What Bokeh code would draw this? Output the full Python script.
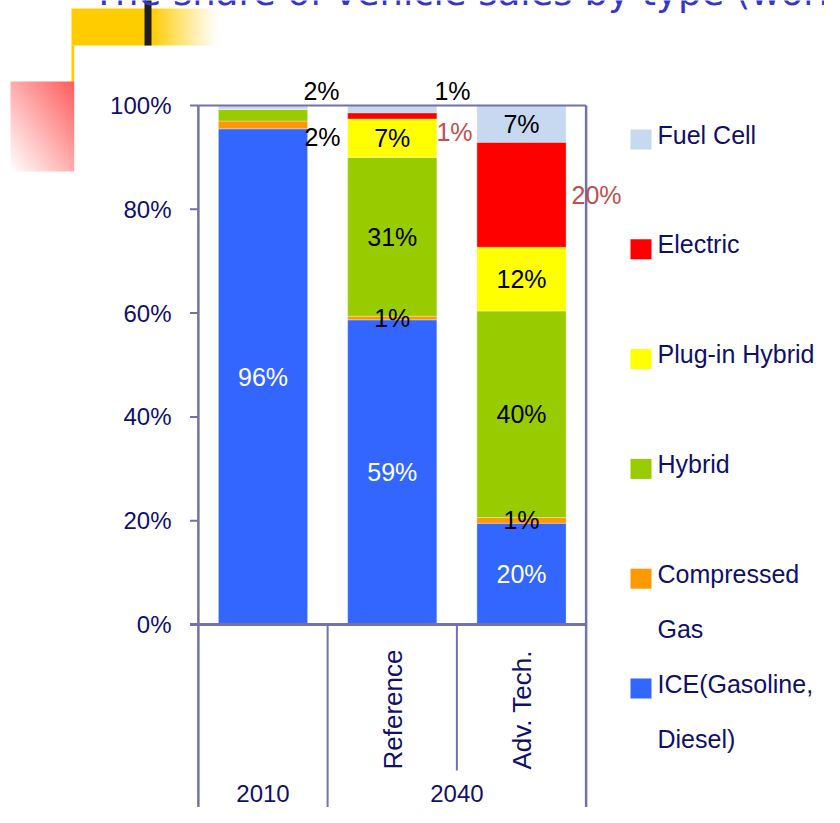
import numpy as np
from bokeh.plotting import figure
from bokeh.models import ColumnDataSource, Range1d
from bokeh.core.properties import value
from bokeh.embed import file_html
from bokeh.resources import INLINE

# ---------------- data ----------------
title = "The share of vehicle sales by type (world)"
groups = ["2010", "2040", "2040"]
scenarios = ["", "Reference", "Adv. Tech."]

series_names = ["ICE(Gasoline, Diesel)", "Compressed Gas", "Hybrid",
                "Plug-in Hybrid", "Electric", "Fuel Cell"]
ice = [95.5, 58.7, 19.5]
compressed_gas = [1.5, 0.7, 1.1]
hybrid = [2.3, 30.6, 39.8]
plug_in_hybrid = [0.0, 7.4, 12.3]
electric = [0.0, 1.2, 20.2]
fuel_cell = [0.7, 1.4, 7.1]

ice_labels = ["96%", "59%", "20%"]
compressed_gas_labels = ["2%", "1%", "1%"]
hybrid_labels = ["2%", "31%", "40%"]
plug_in_hybrid_labels = ["", "7%", "12%"]
electric_labels = ["", "1%", "20%"]
fuel_cell_labels = ["", "1%", "7%"]

y_ticks = [0, 20, 40, 60, 80, 100]
y_tick_labels = ["0%", "20%", "40%", "60%", "80%", "100%"]

legend_lines = [["ICE(Gasoline,", "Diesel)"], ["Compressed", "Gas"], ["Hybrid"],
                ["Plug-in Hybrid"], ["Electric"], ["Fuel Cell"]]

# ---------------- styles / layout ----------------
colors = ["#3366ff", "#ff9900", "#99cc00", "#ffff00", "#ff0000", "#c6d9f0"]
label_colors = ["white", "black", "black", "black", "#c0504d", "black"]
NAVY = "#10106b"
AXIS = "#7272a6"
W, H = 824, 807
X0, CAT_W = 262.5, 129.25   # centre of first category, category width (px)
Y0, PX_PCT = 624.0, 5.19    # pixel of 0 %, pixels per percent
BAR_W = 0.69


def X(px):
    return (px - X0) / CAT_W


def Y(py):
    return (Y0 - py) / PX_PCT


p = figure(width=W, height=H, x_range=Range1d(X(0), X(W)),
           y_range=Range1d(Y(H), Y(0)), output_backend="svg",
           toolbar_location=None, min_border=0,
           x_axis_location=None, y_axis_location=None)
p.grid.visible = False
p.outline_line_color = None
p.background_fill_color = "white"
p.border_fill_color = "white"

# ---------------- decorations ----------------
def blend(c, t):
    return 255 - t * (255 - c)

# yellow block, fading to white
yh, yw = 37, 68
yimg = np.zeros((yh, yw), dtype=np.uint32)
yv = yimg.view(dtype=np.uint8).reshape((yh, yw, 4))
t = (1 - np.linspace(0, 1, yw)) ** 1.1
yv[:, :, 0] = 255
yv[:, :, 1] = blend(204, t)[None, :].astype(np.uint8)
yv[:, :, 2] = blend(0, t)[None, :].astype(np.uint8)
yv[:, :, 3] = 255
p.quad(left=X(71), right=X(150.5), top=Y(8), bottom=Y(45), fill_color="#ffcc00", line_color=None)
p.image_rgba(image=[yimg], x=X(150), y=Y(45), dw=X(218) - X(150), dh=Y(8) - Y(45))
p.quad(left=X(71), right=X(73.7), top=Y(45), bottom=Y(81), fill_color="#ffcc00", line_color=None)
p.quad(left=X(144), right=X(151), top=Y(-5), bottom=Y(45), fill_color="#1e1e1e", line_color=None)

# pink square with diagonal gradient
ph, pw = 90, 64
pimg = np.zeros((ph, pw), dtype=np.uint32)
pv = pimg.view(dtype=np.uint8).reshape((ph, pw, 4))
uu = np.linspace(0, 1, pw)[None, :]
vv = np.linspace(0, 1, ph)[:, None]
tt = (uu + vv) / 2
pv[:, :, 0] = 255
pv[:, :, 1] = blend(92, tt).astype(np.uint8)
pv[:, :, 2] = blend(92, tt).astype(np.uint8)
pv[:, :, 3] = 255
p.image_rgba(image=[pimg], x=X(10), y=Y(171), dw=X(73.7) - X(10), dh=Y(81) - Y(171))

# title (mostly above the visible area, as in the source slide)
p.text(x=[X(92)], y=[Y(-8)], text=[title], text_font=value("DejaVu Sans"),
       text_font_size="37px", text_color="#3636cc", text_baseline="middle")

# ---------------- bars ----------------
keys = ["ice", "cng", "hyb", "phev", "ev", "fc"]
values = [ice, compressed_gas, hybrid, plug_in_hybrid, electric, fuel_cell]
n = len(groups)
xs = list(range(n))
src = ColumnDataSource(dict(x=xs, **{k: v for k, v in zip(keys, values)}))
p.vbar_stack(keys, x="x", width=BAR_W, color=colors, source=src,
             line_color="white", line_alpha=0.3, line_width=1)

# ---------------- axes (drawn) ----------------
bounds = [i - 0.5 for i in range(n + 1)]
y_bottom = Y(H + 10)
p.segment(x0=[bounds[0], bounds[-1]], y0=[y_bottom, y_bottom],
          x1=[bounds[0], bounds[-1]], y1=[100, 100], line_color=AXIS, line_width=2.5)
p.segment(x0=[bounds[0]], y0=[100], x1=[bounds[-1]], y1=[100], line_color=AXIS, line_width=2)
p.segment(x0=[X(189.5)] * len(y_ticks), y0=y_ticks, x1=[bounds[0]] * len(y_ticks), y1=y_ticks,
          line_color=AXIS, line_width=2)
# group separators below the axis
grp_edges, sub_edges = [], []
for i in range(1, n):
    (grp_edges if groups[i] != groups[i - 1] else sub_edges).append(bounds[i])
p.segment(x0=grp_edges, y0=[0] * len(grp_edges), x1=grp_edges, y1=[y_bottom] * len(grp_edges),
          line_color=AXIS, line_width=2)
p.segment(x0=sub_edges, y0=[0] * len(sub_edges), x1=sub_edges, y1=[Y(770)] * len(sub_edges),
          line_color=AXIS, line_width=2)
p.segment(x0=[X(189.5)], y0=[0], x1=[bounds[-1]], y1=[0], line_color=AXIS, line_width=3)

LBL = value("Liberation Sans")
p.text(x=[X(171)] * len(y_ticks), y=y_ticks, text=y_tick_labels, text_font=LBL,
       text_font_size="24px", text_color=NAVY, text_align="right", text_baseline="middle")

# group labels
uniq = []
for g in groups:
    if g not in uniq:
        uniq.append(g)
gx = [float(np.mean([i for i in xs if groups[i] == g])) for g in uniq]
p.text(x=gx, y=[Y(793)] * len(uniq), text=uniq, text_font=LBL, text_font_size="24px",
       text_color=NAVY, text_align="center", text_baseline="middle")
sx = [i + 0.005 for i in xs if scenarios[i]]
st = [s for s in scenarios if s]
p.text(x=sx, y=[Y(769)] * len(st), text=st, text_font=LBL, text_font_size="26px",
       text_color=NAVY, text_align="left", text_baseline="middle", angle=np.pi / 2)

# ---------------- data labels ----------------
label_sets = [ice_labels, compressed_gas_labels, hybrid_labels,
              plug_in_hybrid_labels, electric_labels, fuel_cell_labels]
stack = np.array(values, dtype=float)
centers = np.cumsum(stack, axis=0) - stack / 2
# labels placed outside their segment: (series, category) -> reference pixel position
outside = {(1, 0): (322, 136), (2, 0): (321, 90), (5, 1): (452, 90),
           (4, 1): (454, 131), (4, 2): (596, None)}
lx, ly, lt, lc = [], [], [], []
for si, labs in enumerate(label_sets):
    for ci, lab in enumerate(labs):
        if not lab:
            continue
        x, y = float(ci), float(centers[si, ci])
        if (si, ci) in outside:
            px_, py_ = outside[(si, ci)]
            x = X(px_)
            if py_ is not None:
                y = Y(py_)
        lx.append(x)
        ly.append(y)
        lt.append(lab)
        lc.append(label_colors[si])
p.text(x=lx, y=ly, text=lt, text_color=lc, text_font=LBL, text_font_size="25px",
       text_align="center", text_baseline="middle")

# ---------------- legend ----------------
leg_order = list(range(len(series_names)))[::-1]
sw_top = 139.0
sw_gap = 109.8
qx0, qx1, qy0, qy1 = [], [], [], []
tx, ty, tt_ = [], [], []
fills = []
for row, si in enumerate(leg_order):
    cy = sw_top + row * sw_gap
    qx0.append(X(630)); qx1.append(X(651))
    qy0.append(Y(cy + 10)); qy1.append(Y(cy - 10))
    fills.append(colors[si])
    for k, line in enumerate(legend_lines[si]):
        tx.append(X(657)); ty.append(Y(cy - 5 + 55 * k)); tt_.append(line)
p.quad(left=qx0, right=qx1, bottom=qy0, top=qy1, fill_color=fills, line_color=None)
p.text(x=tx, y=ty, text=tt_, text_font=LBL, text_font_size="25px",
       text_color=NAVY, text_align="left", text_baseline="middle")

open("out.html", "w").write(file_html(p, INLINE))
